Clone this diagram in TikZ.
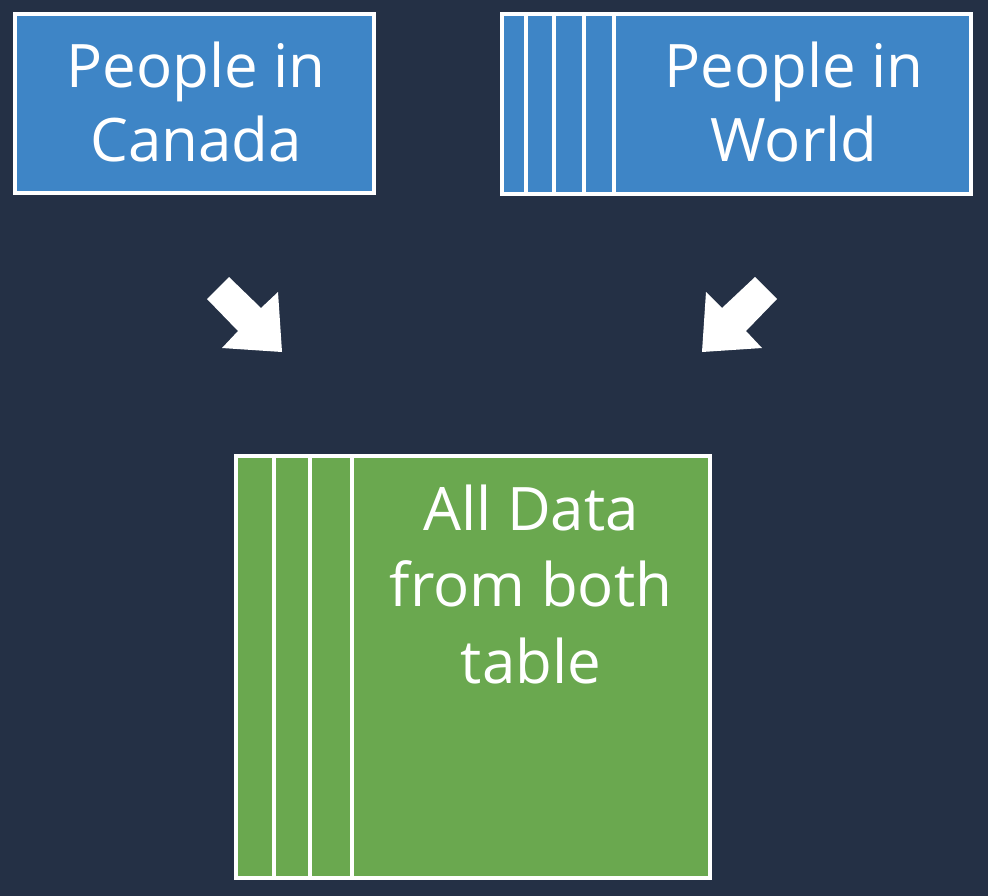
\documentclass[tikz,border=0pt]{standalone}
\usepackage{fontspec}
\setmainfont{Open Sans}
\definecolor{bgnavy}{HTML}{243045}
\definecolor{tblue}{HTML}{3E85C6}
\definecolor{tgreen}{HTML}{6AA84F}
\begin{document}
\begin{tikzpicture}[x=1pt,y=-1pt,
  tablebox/.style={draw=white,line width=4pt},
  divider/.style={draw=white,line width=4pt},
  label/.style={text=white,align=center,anchor=base,inner sep=0pt,
    font=\fontsize{60}{74}\selectfont},
  blockarrow/.style={fill=white,draw=none}]
  % background
  \fill[bgnavy] (0,0) rectangle (988,896);
  \useasboundingbox (0,0) rectangle (988,896);

  % People in Canada (node base = baseline of last line)
  \path[tablebox,fill=tblue] (15,14) rectangle (374,193);
  \coordinate (canada) at (196,162);
  \node[label] (canadatext) at (canada) {People in\\Canada};

  % People in World, with key columns on the left
  \path[tablebox,fill=tblue] (502,14) rectangle (971,194);
  \foreach \cx in {526,554,584,614} \draw[divider] (\cx,14) -- (\cx,194);
  \coordinate (world) at (794,162);
  \node[label] (worldtext) at (world) {People in\\World};

  % Combined result
  \path[tablebox,fill=tgreen] (236,456) rectangle (710,878);
  \foreach \cx in {274,310,352} \draw[divider] (\cx,456) -- (\cx,878);
  \coordinate (alldata) at (531,683);
  \node[label,font=\fontsize{60}{76.5}\selectfont] (alltext) at (alldata)
    {All Data\\from both\\table};

  % block arrows pointing into the result
  \path[blockarrow] (229,277) -- (207,299) -- (238,331) -- (222,348)
        -- (282,352) -- (278,292) -- (261,308) -- cycle;
  \path[blockarrow] (755,277) -- (777,299) -- (746,331) -- (762,348)
        -- (702,352) -- (706,292) -- (722,308) -- cycle;
\end{tikzpicture}
\end{document}
